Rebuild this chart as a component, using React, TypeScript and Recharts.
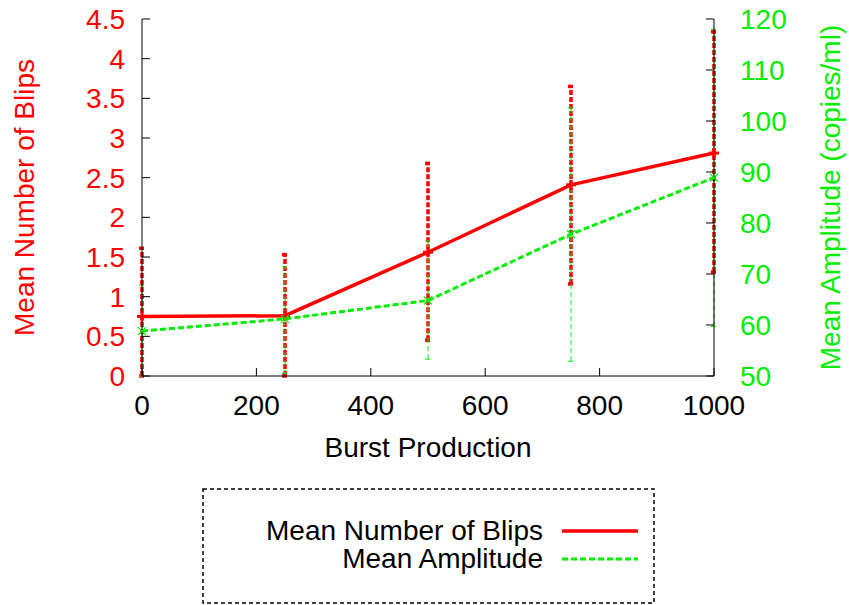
import { ComposedChart, Line, XAxis, YAxis, ErrorBar, Legend } from 'recharts'

const burst = [0, 250, 500, 750, 1000]
const blips = [0.75, 0.76, 1.56, 2.41, 2.81]
const blipsLow = [0, 0, 0.45, 1.16, 1.31]
const blipsHigh = [1.61, 1.53, 2.68, 3.65, 4.34]
const amplitude = [58.8, 61.2, 64.8, 77.8, 88.9]
const amplitudeLow = [50, 50.5, 53.3, 52.9, 59.7]
const amplitudeHigh = [67.8, 71.4, 76.5, 102.6, 118]

const xTicks = [0, 200, 400, 600, 800, 1000]
const leftTicks = [0, 0.5, 1, 1.5, 2, 2.5, 3, 3.5, 4, 4.5]
const rightTicks = [50, 60, 70, 80, 90, 100, 110, 120]

const RED = '#ff0000'
const GREEN = '#00ee00'
const FONT = '"Liberation Sans", Arial, sans-serif'

const series = [
  { name: 'Mean Number of Blips', color: RED, width: 3.5, dash: undefined },
  { name: 'Mean Amplitude', color: GREEN, width: 3, dash: '6 3' },
]

const data = burst.map((x, i) => ({
  burst: x,
  blips: blips[i],
  blipsErr: [blips[i] - blipsLow[i], blipsHigh[i] - blips[i]],
  amplitude: amplitude[i],
  amplitudeErr: [amplitude[i] - amplitudeLow[i], amplitudeHigh[i] - amplitude[i]],
}))

const PlusDot = (props: any) => {
  const { cx, cy, index } = props
  if (cx == null || cy == null) return null
  return (
    <g key={`p-${index}`} stroke={RED} strokeWidth={3}>
      <line x1={cx - 5} y1={cy} x2={cx + 5} y2={cy} />
      <line x1={cx} y1={cy - 5} x2={cx} y2={cy + 5} />
    </g>
  )
}

const CrossDot = (props: any) => {
  const { cx, cy, index } = props
  if (cx == null || cy == null) return null
  return (
    <g key={`x-${index}`} stroke={GREEN} strokeWidth={1.2}>
      <line x1={cx - 4} y1={cy - 4} x2={cx + 4} y2={cy + 4} />
      <line x1={cx - 4} y1={cy + 4} x2={cx + 4} y2={cy - 4} />
    </g>
  )
}

const LegendBox = () => (
  <svg width={453} height={116} style={{ display: 'block', fontFamily: FONT }}>
    <rect x={1} y={1} width={451} height={114} fill="#fff" stroke="#000" strokeWidth={1.5} strokeDasharray="4 3" />
    {series.map((s, i) => (
      <g key={s.name}>
        <text x={341} y={52 + i * 28} fontSize={28} textAnchor="end" fill="#000">
          {s.name}
        </text>
        <line x1={360} x2={436} y1={43 + i * 28} y2={43 + i * 28} stroke={s.color} strokeWidth={s.width} strokeDasharray={s.dash} />
      </g>
    ))}
  </svg>
)

export default function App() {
  return (
    <div style={{ position: 'absolute', left: 0, top: 0 }}>
      <ComposedChart
        width={849}
        height={605}
        data={data}
        margin={{ top: 19, right: 0, bottom: 0, left: 0 }}
        style={{ fontFamily: FONT }}
      >
        <XAxis
          dataKey="burst"
          type="number"
          domain={[0, 1000]}
          ticks={xTicks}
          height={229}
          stroke="#000"
          tickSize={-8}
          tickMargin={27}
          tick={{ fill: '#000', fontSize: 28 }}
          label={{ value: 'Burst Production', position: 'insideTop', offset: 61, fill: '#000', fontSize: 28 }}
        />
        <XAxis
          xAxisId="top"
          orientation="top"
          dataKey="burst"
          type="number"
          domain={[0, 1000]}
          ticks={xTicks}
          height={0}
          stroke="#000"
          tickSize={-8}
          tick={false}
        />
        <YAxis
          yAxisId="left"
          domain={[0, 4.5]}
          ticks={leftTicks}
          width={142}
          stroke="#000"
          tickSize={-8}
          tickMargin={25}
          tick={{ fill: RED, fontSize: 28 }}
          label={{
            value: 'Mean Number of Blips',
            angle: -90,
            position: 'insideLeft',
            offset: 24,
            fill: RED,
            fontSize: 28,
            style: { textAnchor: 'middle' },
          }}
        />
        <YAxis
          yAxisId="right"
          orientation="right"
          domain={[50, 120]}
          ticks={rightTicks}
          width={135}
          stroke="#000"
          tickSize={-8}
          tickMargin={34}
          tick={{ fill: GREEN, fontSize: 28 }}
          label={{
            value: 'Mean Amplitude (copies/ml)',
            angle: -90,
            position: 'insideRight',
            offset: 19,
            fill: GREEN,
            fontSize: 28,
            style: { textAnchor: 'middle' },
          }}
        />
        <Legend
          layout="vertical"
          align="center"
          verticalAlign="middle"
          width={453}
          height={116}
          wrapperStyle={{ left: 202, top: 488, width: 453, height: 116 }}
          content={LegendBox}
        />
        <Line
          yAxisId="left"
          dataKey="blips"
          name="Mean Number of Blips"
          stroke={RED}
          strokeWidth={3.5}
          dot={PlusDot}
          isAnimationActive={false}
        >
          <ErrorBar dataKey="blipsErr" stroke={RED} strokeWidth={3.5} strokeDasharray="5 2" width={3} isAnimationActive={false} />
        </Line>
        <Line
          yAxisId="right"
          dataKey="amplitude"
          name="Mean Amplitude"
          stroke={GREEN}
          strokeWidth={3}
          strokeDasharray="6 3"
          dot={CrossDot}
          isAnimationActive={false}
        >
          <ErrorBar dataKey="amplitudeErr" stroke={GREEN} strokeWidth={1} strokeDasharray="5 3" width={3} isAnimationActive={false} />
        </Line>
      </ComposedChart>
    </div>
  )
}
